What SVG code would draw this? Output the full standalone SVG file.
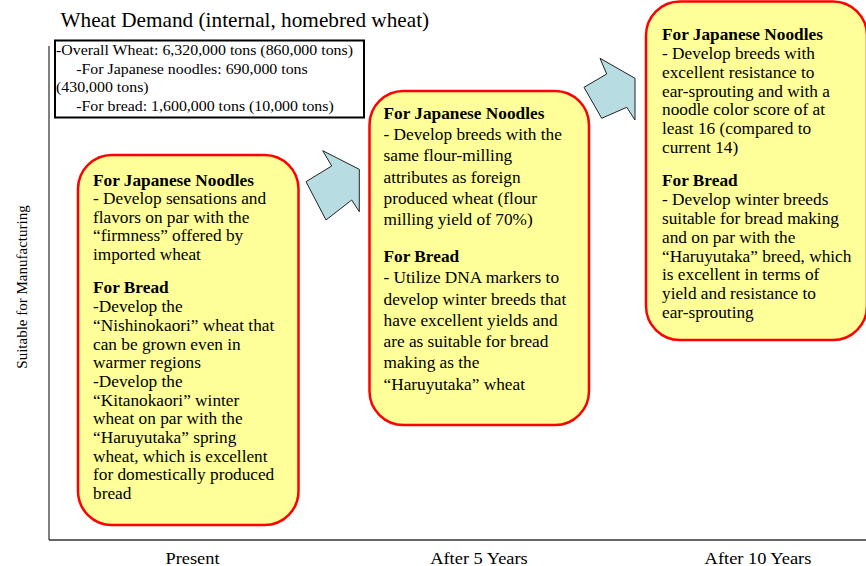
<svg xmlns="http://www.w3.org/2000/svg" width="866" height="566" viewBox="0 0 866 566">
<style>
text{font-family:"Liberation Serif","Times New Roman",serif;fill:#000}
.t{font-size:16px}
.b{font-weight:bold}
.d{font-size:15px}
.box{fill:#FFFF99;stroke:#FF0000;stroke-width:2.5}
.arr{fill:#B7DDE3;stroke:#222;stroke-width:1}
.ax{font-size:16px}
</style>
<rect width="866" height="566" fill="#fff"/>
<g id="axes">
<line x1="49" y1="46" x2="49" y2="540" stroke="#000" stroke-width="1"/>
<line x1="49" y1="540" x2="866" y2="540" stroke="#333" stroke-width="1.5"/>
<text font-size="15" transform="translate(27,287) rotate(-90)" text-anchor="middle">Suitable for Manufacturing</text>
<text class="ax" transform="translate(192.5,564) scale(1.15,1)" text-anchor="middle">Present</text>
<text class="ax" transform="translate(479,564) scale(1.15,1)" text-anchor="middle">After 5 Years</text>
<text class="ax" transform="translate(758,564) scale(1.15,1)" text-anchor="middle">After 10 Years</text>
</g>
<g id="title"><text transform="translate(60.5,27) scale(1.063,1)" font-size="20">Wheat Demand (internal, homebred wheat)</text></g>
<g id="demand">
<rect x="55" y="40.5" width="309" height="77" fill="#fff" stroke="#000" stroke-width="2"/>
<g transform="translate(56,0) scale(1.06,1)">
<text class="d" x="0" y="55">-Overall Wheat: 6,320,000 tons (860,000 tons)</text>
<text class="d" x="19" y="74">-For Japanese noodles: 690,000 tons</text>
<text class="d" x="0" y="92.5">(430,000 tons)</text>
<text class="d" x="19" y="111">-For bread: 1,600,000 tons (10,000 tons)</text>
</g>
</g>
<g id="connectors">
<polygon class="arr" points="306,181.7 331.7,166 322.7,150.7 359.3,169.3 359.3,211.7 351.7,200 326,220"/>
<polygon class="arr" points="584,87.3 606.7,74 600,58.3 635,78.3 635,120 626.7,107.3 601.7,118.3"/>
</g>
<g id="present">
<rect class="box" x="78" y="155" width="220.5" height="370" rx="34"/>
<g transform="translate(93,0) scale(1.08,1)">
<text class="t" x="0" y="186"><tspan class="b">For Japanese Noodles</tspan><tspan x="0" dy="18.5">- Develop sensations and</tspan><tspan x="0" dy="18.5">flavors on par with the</tspan><tspan x="0" dy="18.5">“firmness” offered by</tspan><tspan x="0" dy="18.5">imported wheat</tspan></text>
<text class="t" x="0" y="293.5"><tspan class="b">For Bread</tspan><tspan x="0" dy="18.7">-Develop the</tspan><tspan x="0" dy="18.7">“Nishinokaori” wheat that</tspan><tspan x="0" dy="18.7">can be grown even in</tspan><tspan x="0" dy="18.7">warmer regions</tspan><tspan x="0" dy="18.7">-Develop the</tspan><tspan x="0" dy="18.7">“Kitanokaori” winter</tspan><tspan x="0" dy="18.7">wheat on par with the</tspan><tspan x="0" dy="18.7">“Haruyutaka” spring</tspan><tspan x="0" dy="18.7">wheat, which is excellent</tspan><tspan x="0" dy="18.7">for domestically produced</tspan><tspan x="0" dy="18.7">bread</tspan></text>
</g>
</g>
<g id="five-years">
<rect class="box" x="369.5" y="91" width="219.5" height="334" rx="34"/>
<g transform="translate(383.5,0) scale(1.08,1)">
<text class="t" x="0" y="119"><tspan class="b">For Japanese Noodles</tspan><tspan x="0" dy="21.2">- Develop breeds with the</tspan><tspan x="0" dy="21.2">same flour-milling</tspan><tspan x="0" dy="21.2">attributes as foreign</tspan><tspan x="0" dy="21.2">produced wheat (flour</tspan><tspan x="0" dy="21.2">milling yield of 70%)</tspan></text>
<text class="t" x="0" y="262"><tspan class="b">For Bread</tspan><tspan x="0" dy="21.3">- Utilize DNA markers to</tspan><tspan x="0" dy="21.3">develop winter breeds that</tspan><tspan x="0" dy="21.3">have excellent yields and</tspan><tspan x="0" dy="21.3">are as suitable for bread</tspan><tspan x="0" dy="21.3">making as the</tspan><tspan x="0" dy="21.3">“Haruyutaka” wheat</tspan></text>
</g>
</g>
<g id="ten-years">
<rect class="box" x="646" y="1.5" width="221" height="338.5" rx="34"/>
<g transform="translate(662,0) scale(1.08,1)">
<text class="t" x="0" y="40.5"><tspan class="b">For Japanese Noodles</tspan><tspan x="0" dy="18.7">- Develop breeds with</tspan><tspan x="0" dy="18.7">excellent resistance to</tspan><tspan x="0" dy="18.7">ear-sprouting and with a</tspan><tspan x="0" dy="18.7">noodle color score of at</tspan><tspan x="0" dy="18.7">least 16 (compared to</tspan><tspan x="0" dy="18.7">current 14)</tspan></text>
<text class="t" x="0" y="186.5"><tspan class="b">For Bread</tspan><tspan x="0" dy="18.8">- Develop winter breeds</tspan><tspan x="0" dy="18.8">suitable for bread making</tspan><tspan x="0" dy="18.8">and on par with the</tspan><tspan x="0" dy="18.8">“Haruyutaka” breed, which</tspan><tspan x="0" dy="18.8">is excellent in terms of</tspan><tspan x="0" dy="18.8">yield and resistance to</tspan><tspan x="0" dy="18.8">ear-sprouting</tspan></text>
</g>
</g>
</svg>
